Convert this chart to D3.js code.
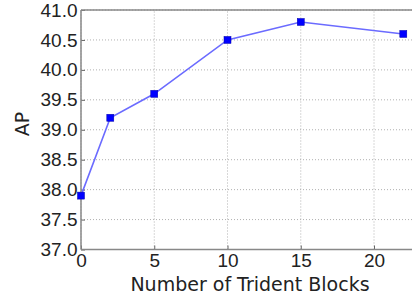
<!DOCTYPE html>
<html>
<head>
<meta charset="utf-8">
<script src="https://cdn.jsdelivr.net/npm/d3@7/dist/d3.min.js"></script>
<style>
  body { margin: 0; background: #fff; }
  svg { display: block; font-family: "DejaVu Sans", sans-serif; }
</style>
</head>
<body>
<div id="chart"></div>
<script>
// data
const blocks = [0, 2, 5, 10, 15, 22];
const apValues = [37.9, 39.2, 39.6, 40.5, 40.8, 40.6];
const xTicks = [0, 5, 10, 15, 20];
const yTicks = [37.0, 37.5, 38.0, 38.5, 39.0, 39.5, 40.0, 40.5, 41.0];

const W = 412, H = 296;
const margin = { top: 10, left: 81 };
const plotH = 239.5;

const svg = d3.select('#chart').append('svg')
  .attr('width', W)
  .attr('height', H);

// x: 0 -> 81px, 20 -> 374px ; the right edge of the axes falls outside the picture
const x = d3.scaleLinear().domain([0, 24]).range([margin.left, margin.left + 24 * 14.65]);
const y = d3.scaleLinear().domain([37, 41]).range([margin.top + plotH, margin.top]);

const g = svg.append('g');

// grid
g.selectAll('.vgrid').data(xTicks).enter().append('line')
  .attr('x1', d => x(d)).attr('x2', d => x(d))
  .attr('y1', y(37)).attr('y2', y(41))
  .attr('stroke', '#b0b0b0').attr('stroke-width', 1)
  .attr('stroke-dasharray', '1,2');
g.selectAll('.hgrid').data(yTicks).enter().append('line')
  .attr('x1', x(0)).attr('x2', W)
  .attr('y1', d => y(d)).attr('y2', d => y(d))
  .attr('stroke', '#b0b0b0').attr('stroke-width', 1)
  .attr('stroke-dasharray', '1,2');

// axes
const xAxis = d3.axisBottom(x).tickValues(xTicks).tickSize(-4).tickPadding(3.5).tickFormat(d3.format('d'));
const yAxis = d3.axisLeft(y).tickValues(yTicks).tickSize(-4).tickPadding(3.5).tickFormat(d3.format('.1f'));

const gx = svg.append('g')
  .attr('transform', `translate(0,${y(37)})`)
  .call(xAxis);
const gy = svg.append('g')
  .attr('transform', `translate(${x(0)},0)`)
  .call(yAxis);

[gx, gy].forEach(a => {
  a.select('.domain').remove();
  a.selectAll('.tick line').attr('stroke', '#666');
  a.selectAll('.tick text')
    .attr('fill', '#222')
    .style('font-size', '19px');
});
gx.selectAll('.tick text').attr('dy', '0.71em');

// spines
svg.append('line')
  .attr('x1', x(0)).attr('x2', W).attr('y1', y(41)).attr('y2', y(41))
  .attr('stroke', '#888').attr('stroke-width', 1.5);
svg.append('line')
  .attr('x1', x(0)).attr('x2', W).attr('y1', y(37)).attr('y2', y(37))
  .attr('stroke', '#888').attr('stroke-width', 1.5);
svg.append('line')
  .attr('x1', x(0)).attr('x2', x(0)).attr('y1', y(41)).attr('y2', y(37))
  .attr('stroke', '#888').attr('stroke-width', 1.5);

// series
const pts = blocks.map((b, i) => [b, apValues[i]]);
svg.append('path')
  .datum(pts)
  .attr('fill', 'none')
  .attr('stroke', '#6b6bff')
  .attr('stroke-width', 1.6)
  .attr('d', d3.line().x(d => x(d[0])).y(d => y(d[1])));

svg.selectAll('.pt').data(pts).enter().append('rect')
  .attr('x', d => x(d[0]) - 3.5)
  .attr('y', d => y(d[1]) - 3.5)
  .attr('width', 7).attr('height', 7)
  .attr('fill', '#0000ff')
  .attr('stroke', '#0000aa').attr('stroke-width', 0.5);

// labels
svg.append('text')
  .attr('x', 250).attr('y', 291)
  .attr('text-anchor', 'middle')
  .attr('fill', '#222')
  .style('font-size', '19px')
  .text('Number of Trident Blocks');

svg.append('text')
  .attr('transform', 'translate(29,124) rotate(-90)')
  .attr('text-anchor', 'middle')
  .attr('fill', '#222')
  .style('font-size', '19px')
  .text('AP');
</script>
</body>
</html>
